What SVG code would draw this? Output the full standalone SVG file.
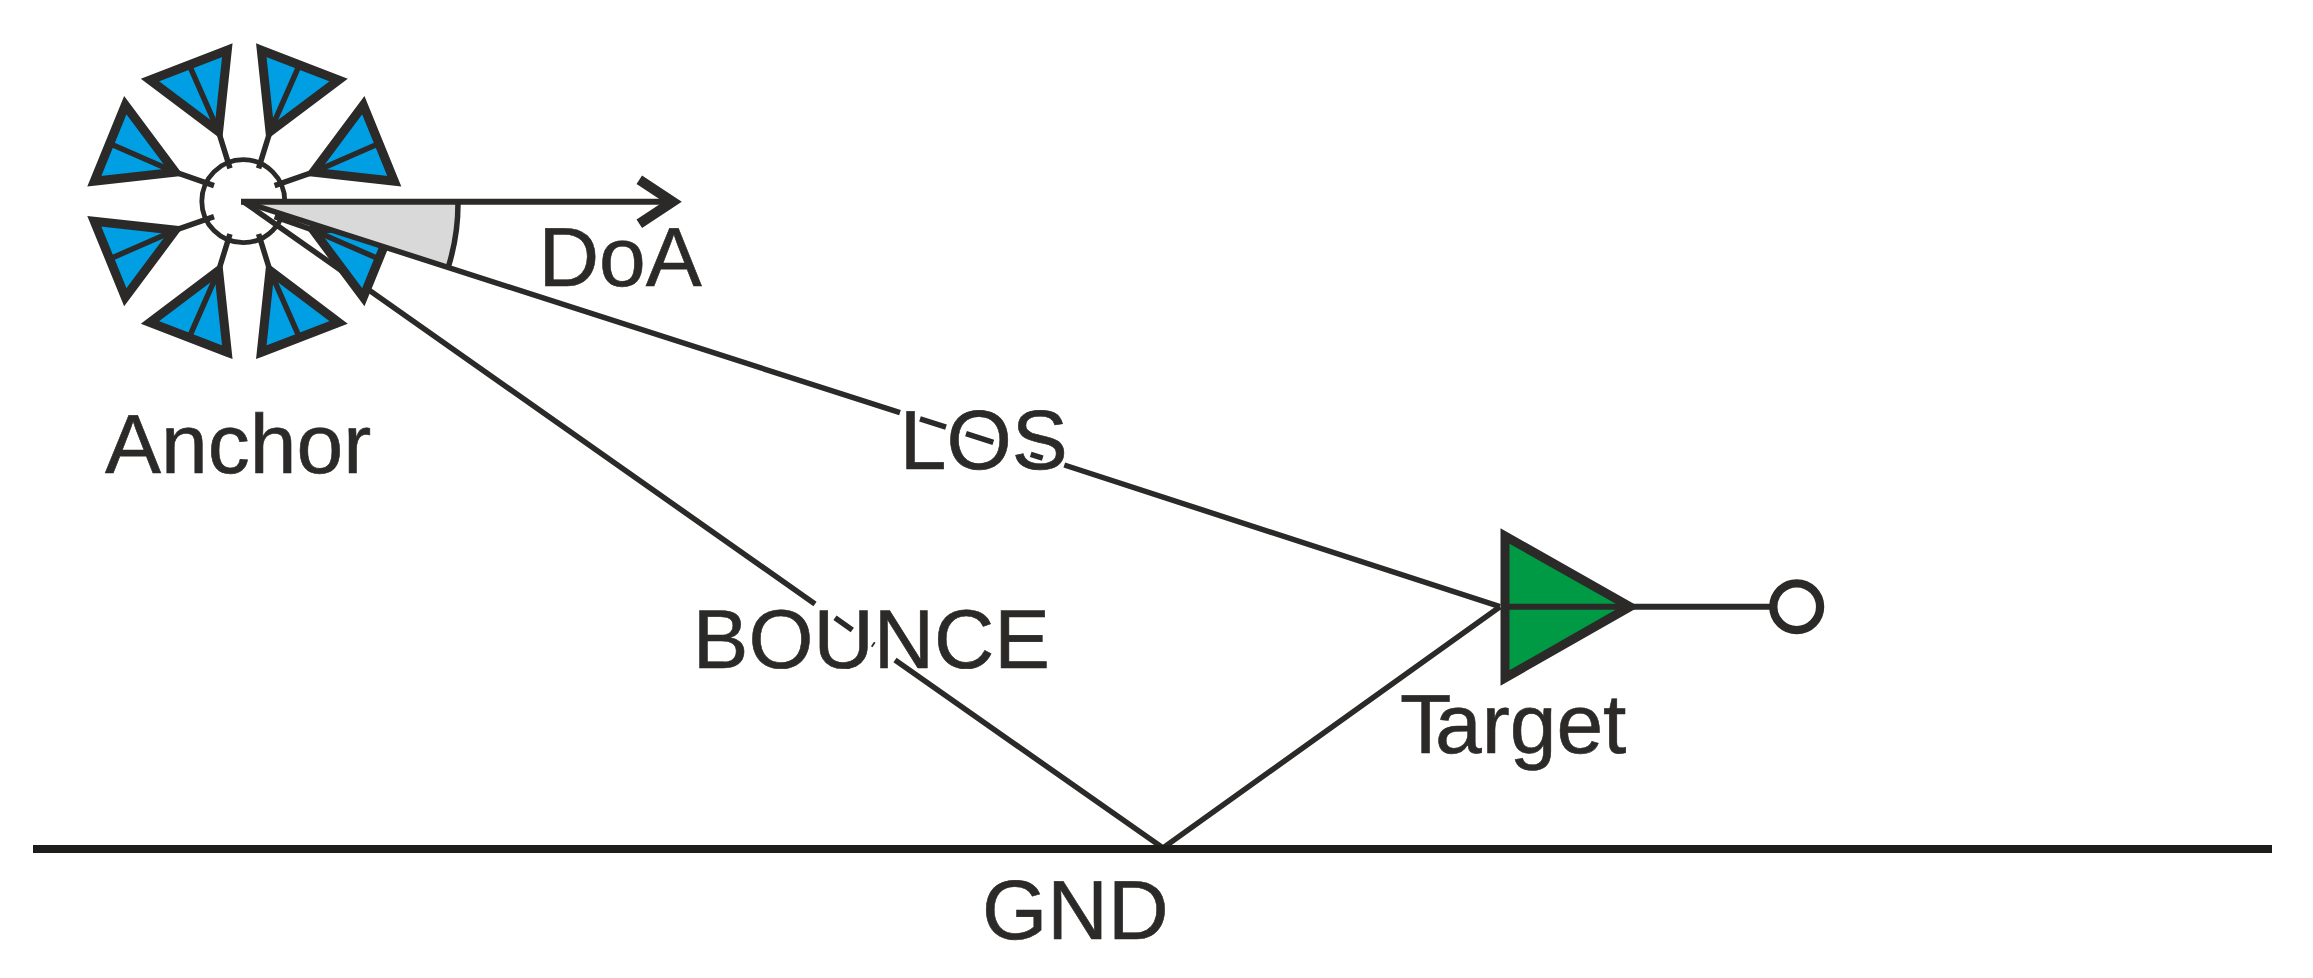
<svg xmlns="http://www.w3.org/2000/svg" xmlns:xlink="http://www.w3.org/1999/xlink" width="2313" height="978" viewBox="0 0 2313 978">
<style>
.ln{fill:none;stroke:#2b2a29;stroke-width:5.5;stroke-miterlimit:10}
.ant{fill:#009fe3;stroke:#2b2a29;stroke-width:9;stroke-miterlimit:10}
.t{font-family:"Liberation Sans",Arial,sans-serif;font-size:84px;fill:#2b2a29;stroke:#2b2a29;stroke-width:0.6;text-rendering:geometricPrecision}
</style>
<defs>
<g id="a1"><path class="ant" d="M-17,-151L-94.3,-121.2L-25.7,-69.5Z"/><path class="ln" d="M-25.7,-69.5L-55,-136M-25.7,-69.5L-14.3,-32.8"/></g>
<g id="a2"><path class="ant" d="M-150,-20L-119,-96L-69,-29Z"/><path class="ln" d="M-69,-29L-133,-57M-69,-29L-30.3,-15.5"/></g>
</defs>
<g id="connectors">
<path id="bounce" class="ln" d="M243.5,201.7L815,604M835,617.8L852.3,630M872.5,644L874,645M895,660L1163,848L1500,606.7"/>
<rect id="ground" x="33" y="845" width="2239" height="8" fill="#1d1d1b"/>
</g>
<g id="anchor" transform="translate(244.3,201.2)">
<circle class="ln" style="stroke-width:4.8" cx="-1" cy="0" r="41.5"/>
<use xlink:href="#a1"/><use xlink:href="#a2"/>
<use xlink:href="#a1" transform="scale(-1,1)"/><use xlink:href="#a2" transform="scale(-1,1)"/>
<use xlink:href="#a1" transform="scale(1,-1)"/><use xlink:href="#a2" transform="scale(1,-1)"/>
<use xlink:href="#a1" transform="scale(-1,-1)"/><use xlink:href="#a2" transform="scale(-1,-1)"/>
</g>
<g id="doa">
<path d="M243.5,201.7H458A215,215 0 0 1 448.3,267Z" fill="#d9d9d9"/>
<path class="ln" d="M458,201.7A215,215 0 0 1 448.3,267"/>
<path class="ln" style="stroke-width:6" d="M241,201.7H674"/>
<path class="ln" style="stroke-width:10" d="M639.3,179.7L672.7,201.7L639.3,223.7"/>
</g>
<path id="los" class="ln" d="M243.5,201.7L900,412.6M920,418.8L946,427.2M966,433.7L993.3,442.4M1030.7,454.4L1042.7,458.2M1064.3,465L1500,606.7"/>
<g id="target">
<path class="ant" d="M1505,536V678L1630,606.7Z" style="fill:#009a44"/>
<path class="ln" style="stroke-width:6" d="M1505,606.7H1775"/>
<circle cx="1796.7" cy="606.7" r="23.4" fill="#fff" stroke="#2b2a29" stroke-width="8.3"/>
</g>
<text class="t" x="538.4" y="286">DoA</text>
<text class="t" x="105" y="472.7">Anchor</text>
<text class="t" x="899.7" y="469">LOS</text>
<text class="t" x="692.8" y="667.7" style="font-size:83.5px">BOUNCE</text>
<text class="t" x="1400" y="753.3">T<tspan dx="-7">arget</tspan></text>
<text class="t" x="982" y="939">GND</text>
</svg>
